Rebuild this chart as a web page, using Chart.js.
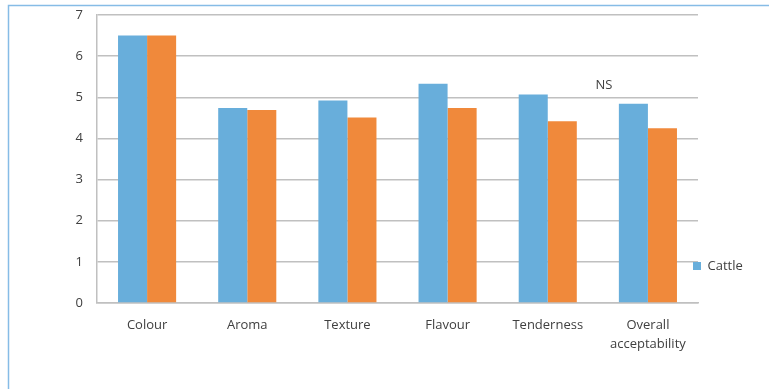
<!DOCTYPE html>
<html>
<head>
<meta charset="utf-8">
<script src="https://cdn.jsdelivr.net/npm/chart.js@4/dist/chart.umd.min.js"></script>
<style>
  html, body { margin: 0; padding: 0; background: #ffffff; }
  #wrap { width: 769px; height: 389px; }
</style>
</head>
<body>
<div id="wrap"><canvas id="c" width="769" height="389"></canvas></div>
<script>
const categories = ['Colour', 'Aroma', 'Texture', 'Flavour', 'Tenderness', ['Overall', 'acceptability']];
const cattleValues = [6.5, 4.74, 4.92, 5.33, 5.07, 4.84];
const secondValues = [6.5, 4.69, 4.51, 4.74, 4.42, 4.25];
const seriesNames = ['Cattle', ''];
const yTicks = [0, 1, 2, 3, 4, 5, 6, 7];
const annotationText = 'NS';
const annotationValue = 5.3;

const FONT = '"Open Sans", "Noto Sans", sans-serif';
const TEXT = '#404040';
const GRID = '#c0c0c0';

const framePlugin = {
  id: 'frame',
  beforeDraw(chart) {
    const ctx = chart.ctx;
    ctx.save();
    ctx.strokeStyle = '#86bce6';
    ctx.lineWidth = 1.5;
    ctx.beginPath();
    ctx.moveTo(8.5, chart.height);
    ctx.lineTo(8.5, 5.5);
    ctx.lineTo(chart.width, 5.5);
    ctx.stroke();
    ctx.restore();
  },
  afterDraw(chart) {
    const ctx = chart.ctx;
    const xs = chart.scales.x, ys = chart.scales.y;
    const catW = (xs.right - xs.left) / categories.length;
    const x = xs.getPixelForValue(categories.length - 1) - 0.44 * catW;
    const y = ys.getPixelForValue(annotationValue);
    ctx.save();
    ctx.font = '13px ' + FONT;
    ctx.fillStyle = TEXT;
    ctx.textAlign = 'center';
    ctx.textBaseline = 'middle';
    ctx.fillText(annotationText, x, y);
    ctx.restore();
  },
  afterLayout(chart) {
    const lg = chart.legend;
    if (!lg) return;
    const w = lg.width, h = lg.height;
    lg.left = chart.chartArea.right - 5;
    lg.top = 259.5;
    lg.right = lg.left + w;
    lg.bottom = lg.top + h;
  }
};

new Chart(document.getElementById('c'), {
  type: 'bar',
  data: {
    labels: categories,
    datasets: [
      { label: seriesNames[0], data: cattleValues, backgroundColor: '#68aedb', borderWidth: 0 },
      { label: seriesNames[1], data: secondValues, backgroundColor: '#f0893b', borderWidth: 0 }
    ]
  },
  options: {
    responsive: false,
    animation: false,
    events: [],
    layout: { padding: { left: 0, top: 15, right: 71, bottom: 0 } },
    datasets: { bar: { categoryPercentage: 0.58, barPercentage: 1.0 } },
    plugins: {
      legend: {
        position: 'chartArea',
        align: 'start',
        labels: {
          boxWidth: 8,
          boxHeight: 8,
          padding: 0,
          color: TEXT,
          font: { family: FONT, size: 13 },
          filter: item => item.text !== ''
        }
      },
      tooltip: { enabled: false }
    },
    scales: {
      x: {
        grid: { display: false, drawTicks: false },
        border: { display: true, color: GRID, width: 1.5 },
        ticks: {
          color: TEXT,
          padding: 13,
          maxRotation: 0,
          autoSkip: false,
          font: { family: FONT, size: 13, lineHeight: 1.45 }
        },
        afterFit(s) { s.height = 86; }
      },
      y: {
        min: 0,
        max: 7,
        afterBuildTicks(s) { s.ticks = yTicks.map(v => ({ value: v })); },
        grid: { color: GRID, lineWidth: 1.5, drawTicks: false },
        border: { display: true, color: GRID, width: 1.5 },
        ticks: {
          color: TEXT,
          padding: 14,
          font: { family: FONT, size: 13 }
        },
        afterFit(s) { s.width = 97; s.paddingTop = 0; s.paddingBottom = 0; }
      }
    }
  },
  plugins: [framePlugin]
});
</script>
</body>
</html>
